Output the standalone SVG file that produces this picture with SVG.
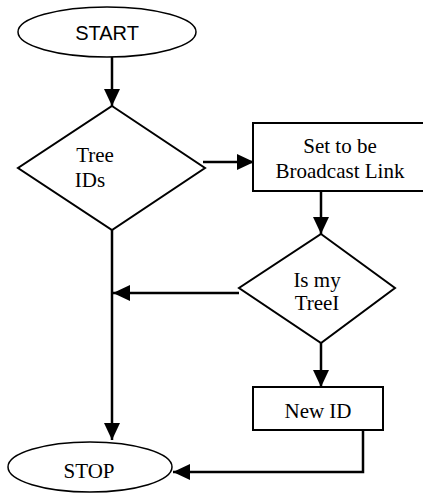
<svg xmlns="http://www.w3.org/2000/svg" width="423" height="493" viewBox="0 0 423 493">
<style>
.shape{fill:#fff;stroke:#000;stroke-width:2}
.ell{fill:#fff;stroke:#000;stroke-width:1.5}
.t{font-family:"Liberation Serif","Times New Roman",serif;font-size:21px;fill:#000;text-anchor:middle}
.a{font-family:"Liberation Sans",Arial,sans-serif;font-size:20px;fill:#000;text-anchor:middle}
.c{fill:none;stroke:#000;stroke-width:2.5}
</style>
<defs>
<marker id="ah" markerUnits="userSpaceOnUse" markerWidth="18" markerHeight="16" refX="17" refY="8" orient="auto">
<path d="M0,0 L17,8 L0,16 Z" fill="#000"/>
</marker>
</defs>
<rect width="423" height="493" fill="#fff"/>
<g id="connectors">
<path class="c" d="M112,57 V106" marker-end="url(#ah)"/>
<path class="c" d="M203,162 H254" marker-end="url(#ah)"/>
<path class="c" d="M321,191 V234" marker-end="url(#ah)"/>
<path class="c" d="M239,293 H113" marker-end="url(#ah)"/>
<path class="c" d="M112,230 V440" marker-end="url(#ah)"/>
<path class="c" d="M321,343 V387" marker-end="url(#ah)"/>
<path class="c" d="M363,430 V472 H173" marker-end="url(#ah)"/>
</g>
<g id="start">
<ellipse class="ell" cx="107" cy="32" rx="89" ry="25"/>
<text class="a" x="107" y="40">START</text>
</g>
<g id="tree-ids">
<polygon class="shape" points="112,106 205,168 112,230 18,168"/>
<text class="t" x="95" y="162">Tree</text>
<text class="t" x="90" y="187">IDs</text>
</g>
<g id="broadcast">
<rect class="shape" x="253" y="123" width="174" height="68"/>
<text class="t" x="340" y="153">Set to be</text>
<text class="t" x="340" y="178">Broadcast Link</text>
</g>
<g id="is-my-tree">
<polygon class="shape" points="321,234 395,288 321,343 239,288"/>
<text class="t" x="317" y="287">Is my</text>
<text class="t" x="317" y="310">TreeI</text>
</g>
<g id="new-id">
<rect class="shape" x="253" y="387" width="130" height="43"/>
<text class="t" x="318" y="418">New ID</text>
</g>
<g id="stop">
<ellipse class="ell" cx="90" cy="467" rx="82" ry="25"/>
<text class="t" x="89" y="478">STOP</text>
</g>
</svg>
